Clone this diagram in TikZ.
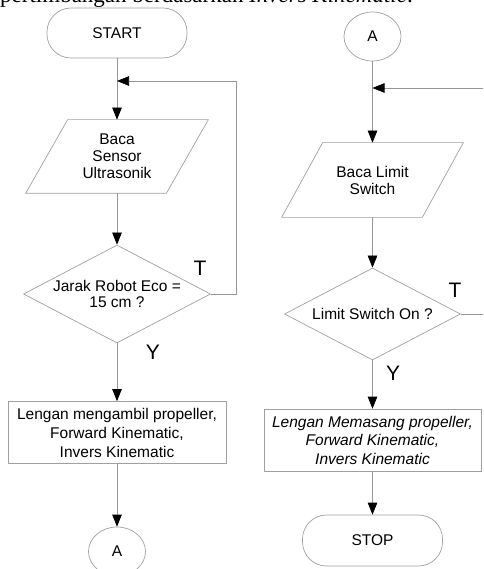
\documentclass[tikz,border=0pt]{standalone}
\usepackage{fontspec}
\setmainfont{Liberation Sans}
\newfontfamily\serifhead{Liberation Serif}
\usetikzlibrary{arrows.meta,shapes.geometric}
\definecolor{lc}{RGB}{150,150,150}
\definecolor{bc}{RGB}{160,160,160}
\begin{document}
\begin{tikzpicture}[x=1pt,y=-1pt,
  base/.style={draw=bc,line width=0.7pt,font=\fontsize{15.5}{17}\selectfont,align=center,inner sep=0pt},
  term/.style={base,rectangle,rounded corners=24pt,minimum width=140pt,minimum height=50pt},
  conn/.style={base,ellipse,minimum width=57pt,minimum height=49pt},
  proc/.style={base,rectangle,minimum width=218pt,minimum height=62pt,font=\fontsize{15.5}{19}\selectfont},
  iobox/.style={base,draw=none,rectangle,minimum width=140pt,minimum height=73pt},
  decis/.style={base,diamond},
  flow/.style={draw=lc,line width=0.7pt,-{Triangle[length=12pt,width=9.5pt,color=black]}},
  plain/.style={draw=lc,line width=0.7pt},
  para/.style={draw=bc,line width=0.7pt},
  lab/.style={font=\fontsize{21}{21}\selectfont,inner sep=0pt}]
\useasboundingbox (0,0) rectangle (483,569);
\clip (0,0) rectangle (483,569);

\node[anchor=base east,font=\serifhead\fontsize{23}{23}\selectfont,inner sep=0pt] (cap) at (413,3) {pertimbangan berdasarkan \textit{Invers Kinematic}.};

% left column
\node[term] (start) at (117,33) {START};
\node[iobox] (read1) at (117,156.5) {Baca\\Sensor\\Ultrasonik};
\draw[para] ([xshift=21pt]read1.north west) -- ([xshift=21pt]read1.north east) -- ([xshift=-21pt]read1.south east) -- ([xshift=-21pt]read1.south west) -- cycle;
\node[decis,minimum width=187pt,minimum height=98pt,
  label={[align=center,font=\fontsize{15.5}{16}\selectfont]center:Jarak Robot Eco =\\15 cm ?}] (dec1) at (117,294) {};
\node[proc] (box1) at (117,432.5) {Lengan mengambil propeller,\\Forward Kinematic,\\Invers Kinematic};
\node[conn] (a1) at (117,551.5) {A};

\coordinate (j1) at (117,81);
\coordinate (b1) at (236,294);
\draw[flow] (start) -- (read1);
\draw[flow] (read1) -- (dec1);
\draw[flow] (dec1.east) -- (b1) |- (j1);
\draw[flow] (dec1) -- (box1);
\draw[flow] (box1) -- (a1);
\node[lab] (t1) at (200,268) {T};
\node[lab] (y1) at (153,352) {Y};

% right column
\node[conn] (a2) at (372.5,36.5) {A};
\node[iobox,minimum height=74pt] (read2) at (372.5,180) {Baca Limit\\Switch};
\draw[para] ([xshift=20.5pt]read2.north west) -- ([xshift=20.5pt]read2.north east) -- ([xshift=-20.5pt]read2.south east) -- ([xshift=-20.5pt]read2.south west) -- cycle;
\node[decis,minimum width=176pt,minimum height=92pt,
  label={[font=\fontsize{15.5}{16}\selectfont]center:Limit Switch On ?}] (dec2) at (372.5,314) {};
\node[proc,minimum width=217pt,font=\fontsize{15.5}{18.5}\selectfont\itshape] (box2) at (372.5,440) {Lengan Memasang propeller,\\Forward Kinematic,\\Invers Kinematic};
\node[term,minimum height=51pt] (stop) at (372.5,540.5) {STOP};

\coordinate (j2) at (372.5,88);
\coordinate (e2) at (483,88);
\coordinate (e3) at (483,314);
\draw[flow] (a2) -- (read2);
\draw[flow] (e2) -- (j2);
\draw[flow] (read2) -- (dec2);
\draw[plain] (dec2.east) -- (e3);
\draw[flow] (dec2) -- (box2);
\draw[flow] (box2) -- (stop);
\node[lab] (t2) at (455,290) {T};
\node[lab] (y2) at (393,373) {Y};
\end{tikzpicture}
\end{document}
